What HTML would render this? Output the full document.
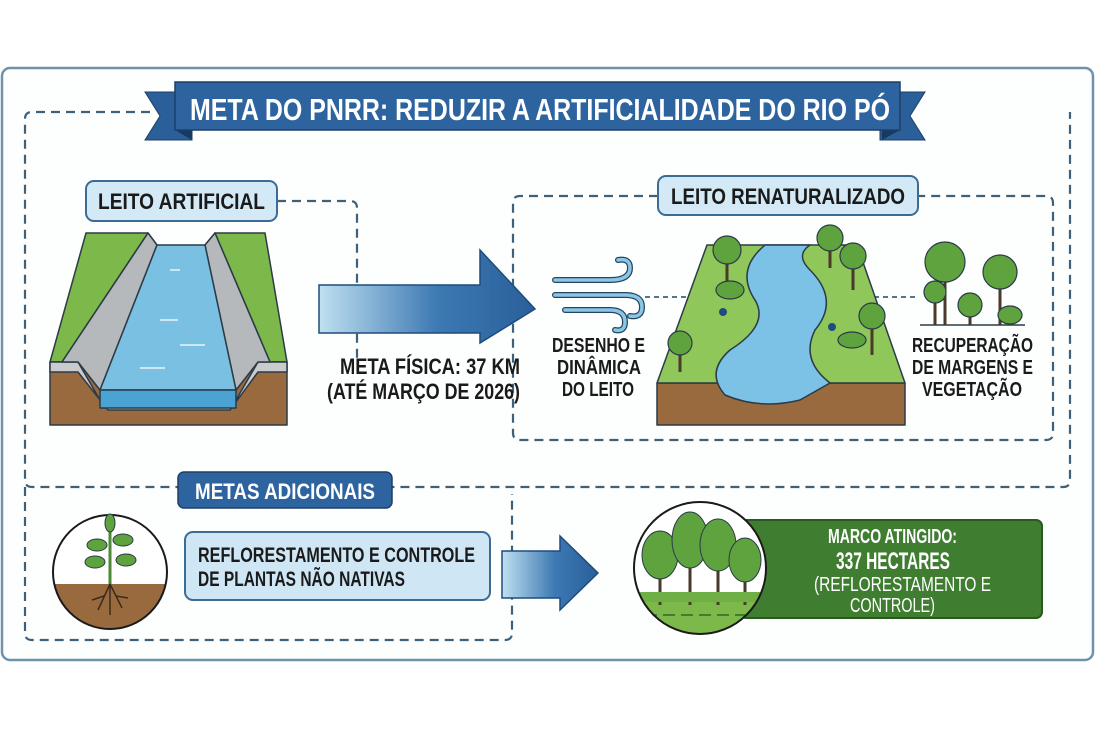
<!DOCTYPE html>
<html><head><meta charset="utf-8"><style>
html,body{margin:0;padding:0;background:#fff;}
svg{display:block;}
text{font-family:"Liberation Sans Narrow","Liberation Sans",sans-serif;font-weight:bold;}
text.n{font-weight:normal;}
</style></head><body>
<svg width="1095" height="730" viewBox="0 0 1095 730" xmlns="http://www.w3.org/2000/svg">
<defs>
<linearGradient id="ag" x1="0" x2="1" y1="0" y2="0"><stop offset="0" stop-color="#bfe0f0"/><stop offset="0.55" stop-color="#3d79b3"/><stop offset="1" stop-color="#2a5f9a"/></linearGradient>
<clipPath id="c1"><circle cx="110" cy="572" r="57"/></clipPath>
<clipPath id="c2"><circle cx="700" cy="568" r="66"/></clipPath>
</defs>
<rect x="2" y="68" width="1091" height="592" rx="8" fill="#fdfefe" stroke="#6f93ad" stroke-width="2.5"/>
<g fill="none" stroke="#3e6179" stroke-width="2.2" stroke-dasharray="9,6">
<path d="M150 112 H32 Q25 112 25 119 V480 Q25 487 32 487 H1063 Q1070 487 1070 480 V112"/>
<path d="M277 201 H350 Q357 201 357 208 V360"/>
<path d="M658 196 H520 Q513 196 513 203 V433 Q513 440 520 440 H1046 Q1053 440 1053 433 V203 Q1053 196 1046 196 H918"/>
<path d="M25 487 V633 Q25 640 32 640 H505 Q512 640 512 633 V494"/>
<path d="M645 297 H725 M915 297 H848" stroke-dasharray="5,4" stroke-width="1.8"/>
</g>
<polygon points="145,92 192,92 192,140 145,140 160,116" fill="#2a5f9a" stroke="#1e3f66"/>
<polygon points="925,92 880,92 880,140 925,140 910,116" fill="#2a5f9a" stroke="#1e3f66"/>
<polygon points="175,130 192,140 192,130" fill="#163a60"/>
<polygon points="900,130 882,140 882,130" fill="#163a60"/>
<rect x="175" y="82" width="725" height="48" fill="#2d64a0" stroke="#1e3f66" stroke-width="1.5"/>
<text x="190" y="120" font-size="31" fill="#fff" textLength="700" lengthAdjust="spacingAndGlyphs">META DO PNRR: REDUZIR A ARTIFICIALIDADE DO RIO PÓ</text>
<rect x="86" y="181" width="191" height="40" rx="8" fill="#d3e9f6" stroke="#3c6c93" stroke-width="2"/>
<text x="98" y="209" font-size="22" fill="#1a1a1a" textLength="167" lengthAdjust="spacingAndGlyphs">LEITO ARTIFICIAL</text>
<g stroke="#2b3b47" stroke-width="1.5" stroke-linejoin="round">
<polygon points="86,233 148,233 62,362 50,362" fill="#7db84a"/>
<polygon points="215,233 265,233 287,362 270,362" fill="#7db84a"/>
<polygon points="50,362 287,362 287,425 50,425" fill="#9a6a3f"/>
<polygon points="148,233 157,245 100,390 78,362 50,362 50,372 78,372 108,410 230,410 258,372 287,372 287,362 258,362 236,390 205,245 215,233 226,362 258,362 236,400 100,400 78,362 62,362" fill="#c9cbcc"/>
<polygon points="148,233 157,245 100,390 78,362 62,362" fill="#b6b9bb"/>
<polygon points="215,233 205,245 236,390 258,362 270,362" fill="#b6b9bb"/>
<polygon points="157,245 205,245 236,390 100,390" fill="#79c0e2"/>
<polygon points="100,390 236,390 236,408 100,408" fill="#4aa3d2"/>
</g>
<g stroke="#e8f6fc" stroke-width="1.5"><line x1="170" y1="270" x2="180" y2="270"/><line x1="160" y1="320" x2="178" y2="320"/><line x1="180" y1="345" x2="205" y2="345"/><line x1="140" y1="368" x2="165" y2="368"/></g>
<polygon points="319,285 480,285 480,250 535,309 480,343 480,333 319,333" fill="url(#ag)" stroke="#1f4c7c" stroke-width="1.5"/>
<text x="340" y="374" font-size="22" fill="#1a1a1a" textLength="180" lengthAdjust="spacingAndGlyphs">META FÍSICA: 37 KM</text>
<text x="327" y="399" font-size="22" fill="#1a1a1a" textLength="193" lengthAdjust="spacingAndGlyphs">(ATÉ MARÇO DE 2026)</text>
<rect x="658" y="176" width="260" height="39" rx="8" fill="#d3e9f6" stroke="#3c6c93" stroke-width="2"/>
<text x="671" y="204" font-size="22" fill="#1a1a1a" textLength="234" lengthAdjust="spacingAndGlyphs">LEITO RENATURALIZADO</text>
<g fill="none" stroke="#24465f" stroke-width="6" stroke-linecap="round"><path d="M555 280 H610 Q630 280 630 268 Q630 258 618 260"/><path d="M555 295 H625 Q642 295 642 307 Q642 318 630 316"/><path d="M565 310 H610 Q625 310 625 322 Q625 332 615 330"/></g>
<g fill="none" stroke="#8cc6e6" stroke-width="3.5" stroke-linecap="round"><path d="M555 280 H610 Q630 280 630 268 Q630 258 618 260"/><path d="M555 295 H625 Q642 295 642 307 Q642 318 630 316"/><path d="M565 310 H610 Q625 310 625 322 Q625 332 615 330"/></g>
<g font-size="20" fill="#1a1a1a"><text x="552" y="352" textLength="93" lengthAdjust="spacingAndGlyphs">DESENHO E</text><text x="557" y="374" textLength="84" lengthAdjust="spacingAndGlyphs">DINÂMICA</text><text x="562" y="396" textLength="72" lengthAdjust="spacingAndGlyphs">DO LEITO</text></g>
<g stroke="#2b3b47" stroke-width="1.5" stroke-linejoin="round">
<polygon points="657,383 905,383 905,425 657,425" fill="#9a6a3f"/>
<polygon points="707,245 857,245 905,383 657,383" fill="#8fc75a"/>
<path d="M765 245 Q735 270 755 300 Q770 325 730 350 Q705 372 725 395 Q760 410 800 400 L830 383 Q800 360 815 330 Q840 300 810 270 Q795 255 810 245 Z" fill="#7cc2e6"/>
</g>
<g stroke="#4a3a2a" stroke-width="3"><line x1="727" y1="255" x2="727" y2="285"/><line x1="830" y1="245" x2="830" y2="268"/><line x1="853" y1="262" x2="853" y2="290"/><line x1="680" y1="350" x2="680" y2="372"/><line x1="872" y1="322" x2="872" y2="355"/><line x1="945" y1="270" x2="945" y2="325"/><line x1="935" y1="298" x2="935" y2="325"/><line x1="1000" y1="280" x2="1000" y2="325"/><line x1="970" y1="308" x2="970" y2="325"/></g>
<g fill="#5ea33e" stroke="#2b3b47" stroke-width="1.2">
<circle cx="727" cy="250" r="14"/><circle cx="830" cy="238" r="13"/><circle cx="853" cy="256" r="13"/><ellipse cx="730" cy="290" rx="14" ry="9"/><circle cx="680" cy="343" r="12"/><circle cx="872" cy="316" r="13"/><ellipse cx="852" cy="340" rx="14" ry="8"/>
<circle cx="945" cy="262" r="20"/><circle cx="935" cy="292" r="11"/><circle cx="1000" cy="272" r="17"/><circle cx="970" cy="305" r="12"/><ellipse cx="1010" cy="315" rx="12" ry="9"/>
</g>
<circle cx="723" cy="312" r="4" fill="#1f4c7c"/><circle cx="832" cy="327" r="4" fill="#1f4c7c"/>
<line x1="920" y1="325" x2="1025" y2="325" stroke="#2b3b47" stroke-width="1.5"/>
<g font-size="20" fill="#1a1a1a"><text x="912" y="352" textLength="121" lengthAdjust="spacingAndGlyphs">RECUPERAÇÃO</text><text x="912" y="374" textLength="121" lengthAdjust="spacingAndGlyphs">DE MARGENS E</text><text x="922" y="396" textLength="100" lengthAdjust="spacingAndGlyphs">VEGETAÇÃO</text></g>
<rect x="178" y="472" width="214" height="36" rx="6" fill="#2d64a0" stroke="#1e3f66" stroke-width="1.5"/>
<text x="195" y="499" font-size="22" fill="#fff" textLength="180" lengthAdjust="spacingAndGlyphs">METAS ADICIONAIS</text>
<g clip-path="url(#c1)"><rect x="50" y="510" width="120" height="120" fill="#fff"/><rect x="50" y="584" width="120" height="50" fill="#9a6a3f"/></g>
<circle cx="110" cy="572" r="57" fill="none" stroke="#1a1a1a" stroke-width="2"/>
<line x1="110" y1="518" x2="110" y2="584" stroke="#4d8a35" stroke-width="3"/>
<g fill="#5ea33e" stroke="#2b3b47"><ellipse cx="97" cy="545" rx="10" ry="6"/><ellipse cx="123" cy="540" rx="10" ry="6"/><ellipse cx="126" cy="560" rx="10" ry="6"/><ellipse cx="95" cy="562" rx="10" ry="6"/><ellipse cx="110" cy="523" rx="5" ry="9"/></g>
<path d="M110 584 L98 610 M110 584 L122 608 M110 584 L110 615 M104 596 L92 600 M116 596 L128 598" stroke="#3a2a1a" stroke-width="1.5" fill="none"/>
<rect x="185" y="532" width="305" height="68" rx="8" fill="#cfe6f5" stroke="#3c6c93" stroke-width="2"/>
<g font-size="21" fill="#1a1a1a"><text x="198" y="562" textLength="277" lengthAdjust="spacingAndGlyphs">REFLORESTAMENTO E CONTROLE</text><text x="198" y="586" textLength="207" lengthAdjust="spacingAndGlyphs">DE PLANTAS NÃO NATIVAS</text></g>
<polygon points="502,551 560,551 560,536 598,573 560,610 560,598 502,598" fill="url(#ag)" stroke="#1f4c7c" stroke-width="1.5"/>
<rect x="740" y="520" width="302" height="98" rx="6" fill="#3f7d30" stroke="#2a5a20" stroke-width="2"/>
<g clip-path="url(#c2)"><rect x="630" y="500" width="140" height="140" fill="#fff"/><rect x="630" y="600" width="140" height="40" fill="#7db84a"/>
<g stroke="#4a3a2a" stroke-width="3"><line x1="660" y1="560" x2="660" y2="605"/><line x1="690" y1="545" x2="690" y2="605"/><line x1="718" y1="550" x2="718" y2="605"/><line x1="745" y1="565" x2="745" y2="605"/></g>
<g fill="#5ea33e" stroke="#2b3b47"><ellipse cx="660" cy="555" rx="18" ry="24"/><ellipse cx="690" cy="540" rx="18" ry="28"/><ellipse cx="718" cy="545" rx="18" ry="26"/><ellipse cx="745" cy="560" rx="16" ry="22"/></g>
<rect x="640" y="592" width="120" height="10" fill="#6fb046"/><line x1="645" y1="615" x2="760" y2="615" stroke="#3f7d30" stroke-width="2" stroke-dasharray="12,6"/></g>
<circle cx="700" cy="568" r="66" fill="none" stroke="#1a1a1a" stroke-width="2"/>
<g fill="#fff" font-size="20"><text x="828" y="543" textLength="129" lengthAdjust="spacingAndGlyphs">MARCO ATINGIDO:</text><text x="836" y="569" font-size="24" textLength="114" lengthAdjust="spacingAndGlyphs">337 HECTARES</text><text class="n" x="814" y="591" textLength="177" lengthAdjust="spacingAndGlyphs">(REFLORESTAMENTO E</text><text class="n" x="850" y="612" textLength="85" lengthAdjust="spacingAndGlyphs">CONTROLE)</text></g>
</svg>
</body></html>
